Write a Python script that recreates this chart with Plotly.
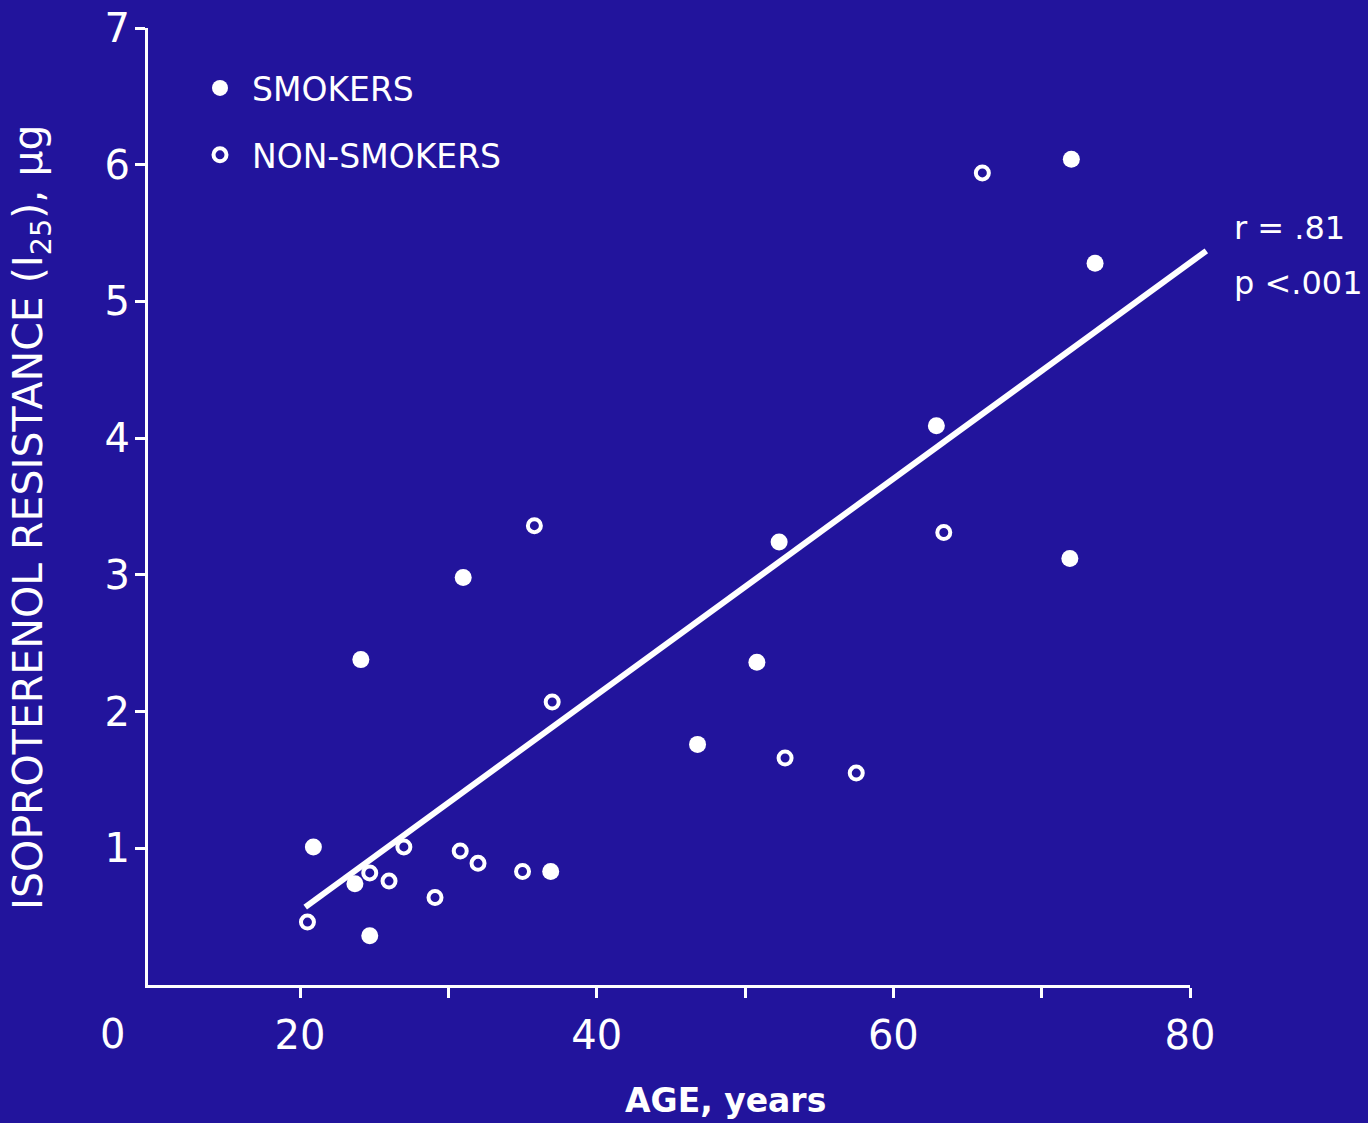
import plotly.graph_objects as go

# ---------------- data ----------------
smokers_age = [20.9, 23.7, 24.7, 24.1, 31.0, 36.9, 46.8, 50.8, 52.3, 62.9, 72.0, 73.6, 71.9]
smokers_i25 = [1.01, 0.74, 0.36, 2.38, 2.98, 0.83, 1.76, 2.36, 3.24, 4.09, 6.04, 5.28, 3.12]

nonsmokers_age = [20.5, 24.7, 26.0, 27.0, 29.1, 30.8, 32.0, 35.0, 35.8, 37.0, 52.7, 57.5, 63.4, 66.0]
nonsmokers_i25 = [0.46, 0.82, 0.76, 1.01, 0.64, 0.98, 0.89, 0.83, 3.36, 2.07, 1.66, 1.55, 3.31, 5.94]

fit_age = [20.35, 81.1]
fit_i25 = [0.57, 5.37]

x_tick_vals = [20, 40, 60, 80]
x_tick_text = ["20", "40", "60", "80"]
x_minor_vals = [30, 50, 70]
y_tick_vals = [1, 2, 3, 4, 5, 6, 7]
y_tick_text = ["1", "2", "3", "4", "5", "6", "7"]

# ---------------- style ----------------
BG = "#22149c"
FG = "white"
FONT = "DejaVu Sans"
W, H = 1368, 1123
L, T = 148, 28
B = H - 985
AXIS_END_PX = 1190
PLOT_END_PX = 1222
x_lo, x_hi = 9.75, 80.0
dom_end = (AXIS_END_PX - L) / (PLOT_END_PX - L)
x2_hi = x_lo + (x_hi - x_lo) / dom_end


def px(xp):
    return (xp - L) / (PLOT_END_PX - L)


def py(yp):
    return 1 - (yp - T) / (H - T - B)


fig = go.Figure()

fig.add_trace(go.Scatter(
    x=smokers_age, y=smokers_i25, mode="markers", name="SMOKERS",
    legendgroup="a",
    marker=dict(symbol="circle", size=17, color=FG, line=dict(width=0)),
    xaxis="x", yaxis="y", cliponaxis=False,
))
fig.add_trace(go.Scatter(
    x=nonsmokers_age, y=nonsmokers_i25, mode="markers", name="NON-SMOKERS",
    legendgroup="b",
    marker=dict(symbol="circle-open", size=13, color=FG, line=dict(width=4, color=FG)),
    xaxis="x", yaxis="y", cliponaxis=False,
))
fig.add_trace(go.Scatter(
    x=fit_age, y=fit_i25, mode="lines", showlegend=False,
    line=dict(color=FG, width=6),
    xaxis="x2", yaxis="y2",
))

axis_common = dict(
    showgrid=False, zeroline=False, showline=True, linecolor=FG, linewidth=3,
    ticks="outside", ticklen=10, tickwidth=3, tickcolor=FG,
    tickfont=dict(family=FONT, size=40, color=FG),
    ticklabeloverflow="allow",
)

fig.update_layout(
    width=W, height=H,
    margin=dict(l=L, r=W - PLOT_END_PX, t=T, b=B, autoexpand=False),
    paper_bgcolor=BG, plot_bgcolor="rgba(0,0,0,0)",
    font=dict(family=FONT, color=FG),
    xaxis=dict(
        domain=[0, dom_end], range=[x_lo, x_hi], anchor="y",
        tickmode="array", tickvals=x_tick_vals, ticktext=x_tick_text,
        minor=dict(tickvals=x_minor_vals, ticks="outside", ticklen=10, tickwidth=3, tickcolor=FG),
        ticklabelstandoff=3,
        **axis_common,
    ),
    yaxis=dict(
        domain=[0, 1], range=[0, 7], anchor="x",
        tickmode="array", tickvals=y_tick_vals, ticktext=y_tick_text,
        ticklabelstandoff=-3,
        **axis_common,
    ),
    xaxis2=dict(domain=[0, 1], range=[x_lo, x2_hi], anchor="y2", visible=False),
    yaxis2=dict(domain=[0, 1], range=[0, 7], anchor="x2", visible=False),
    showlegend=True,
    legend=dict(
        x=px(188), y=py(60), xanchor="left", yanchor="top",
        bgcolor="rgba(0,0,0,0)", borderwidth=0,
        font=dict(family=FONT, size=33, color=FG),
        tracegroupgap=21, itemsizing="trace", itemwidth=54,
    ),
    annotations=[
        dict(text="0", xref="paper", yref="paper", x=px(112), y=py(1034),
             showarrow=False, xanchor="center", yanchor="middle",
             font=dict(family=FONT, size=40, color=FG)),
        dict(text="<b>AGE, years</b>", xref="paper", yref="paper", x=px(725), y=py(1100),
             showarrow=False, xanchor="center", yanchor="middle",
             font=dict(family=FONT, size=33, color=FG)),
        dict(text="ISOPROTERENOL RESISTANCE (I<sub>25</sub>), µg", xref="paper", yref="paper",
             x=px(31), y=py(517), textangle=-90,
             showarrow=False, xanchor="center", yanchor="middle",
             font=dict(family=FONT, size=41, color=FG)),
        dict(text="r = .81", xref="paper", yref="paper", x=px(1232), y=py(228),
             showarrow=False, xanchor="left", yanchor="middle",
             font=dict(family=FONT, size=32, color=FG)),
        dict(text="p <.001", xref="paper", yref="paper", x=px(1232), y=py(283),
             showarrow=False, xanchor="left", yanchor="middle",
             font=dict(family=FONT, size=32, color=FG)),
    ],
)

# remove the browser's default 8px page margin so the figure fills the window
fig.write_html("out.html", config={"displayModeBar": False},
               post_script="document.body.style.margin='0';")
